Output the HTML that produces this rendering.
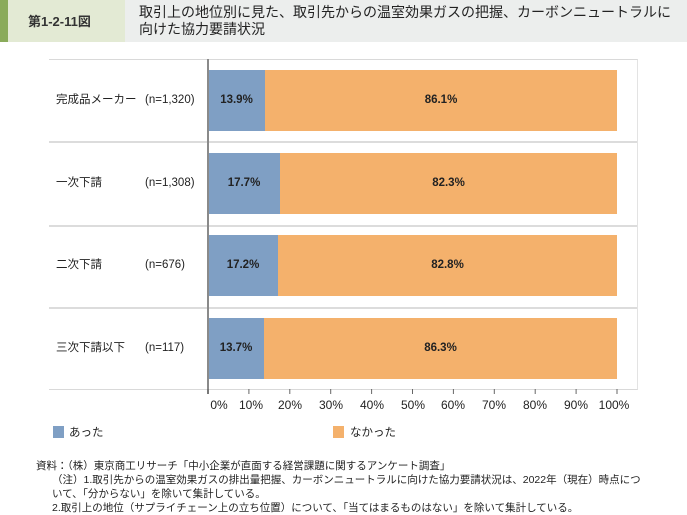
<!DOCTYPE html>
<html><head><meta charset="utf-8"><style>
*{margin:0;padding:0;box-sizing:border-box}
body{width:687px;height:513px;background:#fff;position:relative;overflow:hidden;font-family:"Liberation Sans","Noto Sans CJK JP",sans-serif;color:#222}
.a{position:absolute;white-space:nowrap}
.hd{left:0;top:0;width:687px;height:42px;background:#eceeed}
.g1{left:0;top:0;width:8px;height:42px;background:#8aab5a}
.g2{left:8px;top:0;width:117px;height:42px;background:#e3ead4}
.t{font-size:13px;font-weight:bold;color:#333}
.lbl{font-size:11.5px;line-height:14px;height:14px}
.bar{position:absolute;height:61px}
.b{background:#7f9fc4}.o{background:#f4b16c}
.pct{position:absolute;font-size:11.5px;font-weight:bold;text-align:center;line-height:61px}
.tk{position:absolute;font-size:12px;top:398px;width:40px;text-align:center;margin-left:-20px}
.ft{font-size:10.5px;left:36px}
</style></head><body>
<div class="a hd"></div><div class="a g1"></div><div class="a g2"></div>
<div class="a t" style="left:28px;top:11px">第1-2-11図</div>
<div class="a t" style="left:139px;top:4px;line-height:17px;font-weight:normal;color:#222;font-size:14px">取引上の地位別に見た、取引先からの温室効果ガスの把握、カーボンニュートラルに<br>向けた協力要請状況</div>

<div class="a" style="left:49px;top:59px;width:589px;height:331px;border-top:1px solid #d9d9d9;border-right:1.5px solid #e3e3e3;border-bottom:1.5px solid #d9d9d9"></div>
<div class="a" style="left:49px;top:141px;width:588px;height:1.5px;background:#dcdcdc"></div>
<div class="a" style="left:49px;top:225px;width:588px;height:1.5px;background:#dcdcdc"></div>
<div class="a" style="left:49px;top:307px;width:588px;height:1.5px;background:#dcdcdc"></div>

<div class="bar b" style="left:208px;top:70px;width:57px"></div><div class="bar o" style="left:265px;top:70px;width:352px"></div>
<div class="bar b" style="left:208px;top:153px;width:72px"></div><div class="bar o" style="left:280px;top:153px;width:337px"></div>
<div class="bar b" style="left:208px;top:235px;width:70px"></div><div class="bar o" style="left:278px;top:235px;width:339px"></div>
<div class="bar b" style="left:208px;top:318px;width:56px"></div><div class="bar o" style="left:264px;top:318px;width:353px"></div>

<div class="pct" style="left:208px;top:70px;width:57px">13.9%</div><div class="pct" style="left:265px;top:70px;width:352px">86.1%</div>
<div class="pct" style="left:208px;top:153px;width:72px">17.7%</div><div class="pct" style="left:280px;top:153px;width:337px">82.3%</div>
<div class="pct" style="left:208px;top:235px;width:70px">17.2%</div><div class="pct" style="left:278px;top:235px;width:339px">82.8%</div>
<div class="pct" style="left:208px;top:318px;width:56px">13.7%</div><div class="pct" style="left:264px;top:318px;width:353px">86.3%</div>

<div class="a" style="left:207px;top:59px;width:1.5px;height:335px;background:#8a8a8a"></div>

<div class="a lbl" style="left:56px;top:93px">完成品メーカー</div><div class="a lbl" style="left:145px;top:93px">(n=1,320)</div>
<div class="a lbl" style="left:56px;top:176px">一次下請</div><div class="a lbl" style="left:145px;top:176px">(n=1,308)</div>
<div class="a lbl" style="left:56px;top:258px">二次下請</div><div class="a lbl" style="left:145px;top:258px">(n=676)</div>
<div class="a lbl" style="left:56px;top:341px">三次下請以下</div><div class="a lbl" style="left:145px;top:341px">(n=117)</div>

<svg class="a" style="left:0;top:0" width="687" height="513">
<g stroke="#666" stroke-width="1">
<line x1="208" y1="389" x2="208" y2="394"/><line x1="248.9" y1="389" x2="248.9" y2="394"/><line x1="289.8" y1="389" x2="289.8" y2="394"/><line x1="330.7" y1="389" x2="330.7" y2="394"/><line x1="371.6" y1="389" x2="371.6" y2="394"/><line x1="412.5" y1="389" x2="412.5" y2="394"/><line x1="453.4" y1="389" x2="453.4" y2="394"/><line x1="494.3" y1="389" x2="494.3" y2="394"/><line x1="535.2" y1="389" x2="535.2" y2="394"/><line x1="576.1" y1="389" x2="576.1" y2="394"/><line x1="617" y1="389" x2="617" y2="394"/>
</g></svg>
<div class="tk" style="left:219px">0%</div><div class="tk" style="left:251px">10%</div><div class="tk" style="left:290px">20%</div><div class="tk" style="left:331px">30%</div><div class="tk" style="left:372px">40%</div><div class="tk" style="left:413px">50%</div><div class="tk" style="left:453px">60%</div><div class="tk" style="left:494px">70%</div><div class="tk" style="left:535px">80%</div><div class="tk" style="left:576px">90%</div><div class="tk" style="left:614px">100%</div>

<div class="a" style="left:53px;top:426px;width:11px;height:12px;background:#7f9fc4"></div>
<div class="a lbl" style="left:69px;top:426px">あった</div>
<div class="a" style="left:333px;top:426px;width:11px;height:12px;background:#f4b16c"></div>
<div class="a lbl" style="left:350px;top:426px">なかった</div>

<div class="a ft" style="top:458px">資料：（株）東京商工リサーチ「中小企業が直面する経営課題に関するアンケート調査」</div>
<div class="a ft" style="top:472px;left:52px">（注）1.取引先からの温室効果ガスの排出量把握、カーボンニュートラルに向けた協力要請状況は、2022年（現在）時点につ</div>
<div class="a ft" style="top:486px;left:52px">いて、「分からない」を除いて集計している。</div>
<div class="a ft" style="top:500px;left:52px">2.取引上の地位（サプライチェーン上の立ち位置）について、「当てはまるものはない」を除いて集計している。</div>
</body></html>
